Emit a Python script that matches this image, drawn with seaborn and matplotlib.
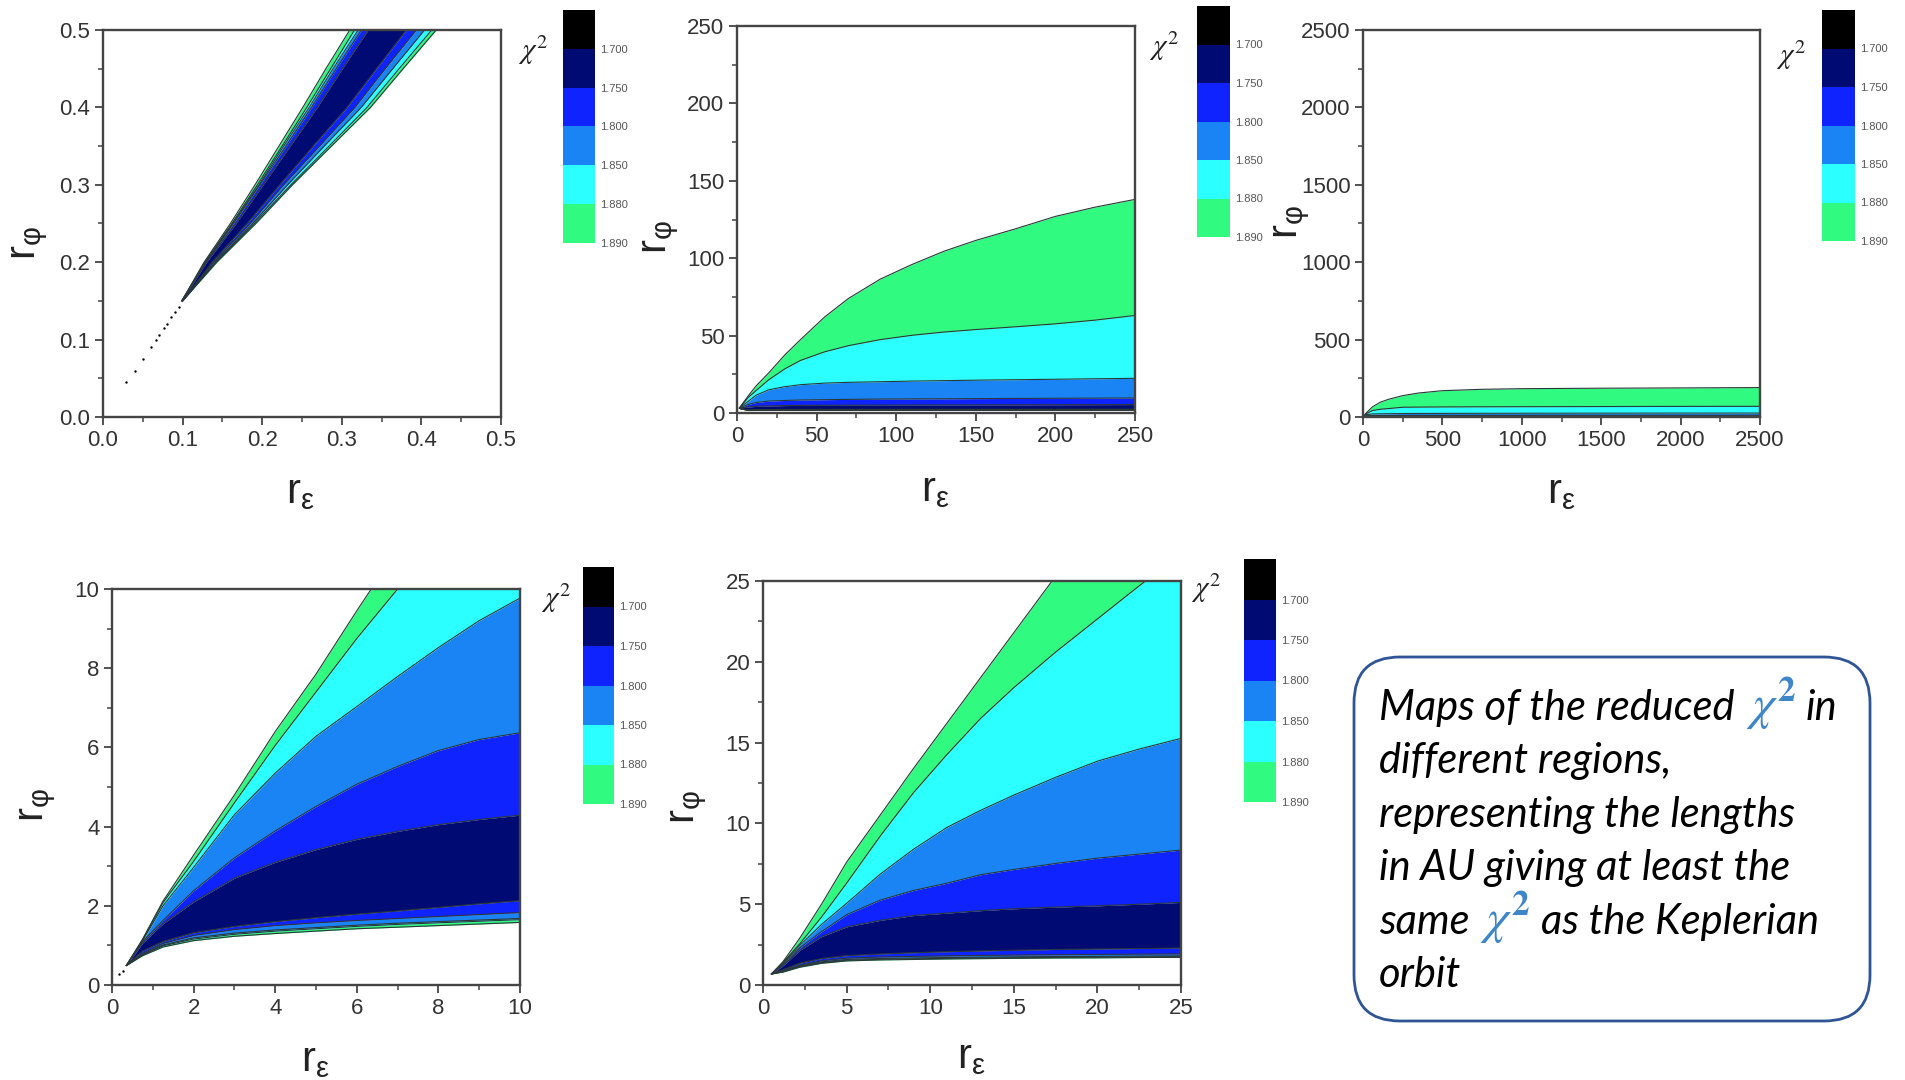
import numpy as np
import matplotlib
matplotlib.use("Agg")
import matplotlib.pyplot as plt
import seaborn as sns
from matplotlib.colors import ListedColormap
from matplotlib.patches import FancyBboxPatch
from matplotlib.transforms import IdentityTransform
from matplotlib.ticker import MultipleLocator, FormatStrFormatter

# ---------------- data ----------------
level_labels = ["1.700", "1.750", "1.800", "1.850", "1.880", "1.890"]
level_colors = ["#000000", "#000A73", "#0F23FF", "#1A84F5", "#2BFFFF", "#30FA80"]
# band order from one outer edge to the other: green, cyan, midblue, blue, navy, blue, midblue, cyan, green
band_index = [5, 4, 3, 2, 1, 2, 3, 4, 5]

# Panel 1 (0..0.5): boundaries given as x at each y (wedge), left edge -> right edge
p1_y = [0.15, 0.2, 0.25, 0.3, 0.35, 0.4, 0.45, 0.5]
p1_U0 = [0.099, 0.127, 0.160, 0.191, 0.221, 0.251, 0.280, 0.310]
p1_U1 = [0.099, 0.128, 0.162, 0.194, 0.225, 0.256, 0.286, 0.316]
p1_U2 = [0.099, 0.129, 0.163, 0.196, 0.227, 0.259, 0.289, 0.3205]
p1_U3 = [0.099, 0.129, 0.164, 0.197, 0.230, 0.262, 0.293, 0.3247]
p1_U4 = [0.099, 0.130, 0.167, 0.201, 0.235, 0.269, 0.3005, 0.333]
p1_L4 = [0.100, 0.137, 0.181, 0.222, 0.264, 0.3065, 0.3435, 0.381]
p1_L3 = [0.100, 0.139, 0.185, 0.227, 0.272, 0.3165, 0.3545, 0.3936]
p1_L2 = [0.100, 0.141, 0.188, 0.232, 0.278, 0.3245, 0.364, 0.404]
p1_L1 = [0.100, 0.142, 0.190, 0.236, 0.284, 0.3317, 0.372, 0.413]
p1_L0 = [0.100, 0.143, 0.192, 0.238, 0.287, 0.336, 0.377, 0.4186]
p1_dots_x = [0.029, 0.040, 0.0505, 0.0597, 0.066, 0.070, 0.0764, 0.0806, 0.086, 0.091, 0.095]
p1_dots_y = [0.045, 0.060, 0.075, 0.090, 0.100, 0.106, 0.1146, 0.120, 0.129, 0.136, 0.142]

# Panel 2 (0..250)
p2_x = [1.5, 7, 12, 20, 30, 40, 55, 70, 90, 110, 130, 150, 175, 200, 225, 250]
p2_L0 = [3.0, 1.60, 1.65, 1.70, 1.72, 1.74, 1.76, 1.77, 1.78, 1.79, 1.80, 1.80, 1.81, 1.81, 1.82, 1.82]
p2_L1 = [3.0, 1.65, 1.70, 1.75, 1.77, 1.79, 1.81, 1.82, 1.83, 1.84, 1.85, 1.85, 1.86, 1.86, 1.87, 1.87]
p2_L2 = [3.0, 1.70, 1.76, 1.81, 1.83, 1.85, 1.87, 1.88, 1.89, 1.90, 1.91, 1.91, 1.92, 1.92, 1.93, 1.93]
p2_L3 = [3.0, 1.80, 1.88, 1.93, 1.96, 1.98, 2.00, 2.01, 2.02, 2.03, 2.04, 2.05, 2.06, 2.06, 2.07, 2.07]
p2_L4 = [3.0, 2.00, 2.15, 2.23, 2.28, 2.31, 2.34, 2.36, 2.38, 2.40, 2.41, 2.42, 2.43, 2.44, 2.45, 2.46]
p2_U4 = [3.2, 3.9, 4.3, 4.6, 4.8, 4.9, 5.0, 5.05, 5.1, 5.15, 5.2, 5.25, 5.3, 5.35, 5.4, 5.45]
p2_U3 = [3.2, 5.5, 6.8, 7.7, 8.1, 8.4, 8.6, 8.8, 9.0, 9.1, 9.2, 9.3, 9.4, 9.5, 9.6, 9.7]
p2_U2 = [3.2, 7.5, 11.5, 15.0, 17.0, 18.3, 19.3, 19.8, 20.2, 20.6, 20.9, 21.2, 21.5, 21.8, 22.1, 22.4]
p2_U1 = [3.2, 10.0, 14.5, 21.5, 28.5, 34.0, 39.5, 43.5, 47.4, 50.2, 52.3, 53.9, 55.7, 57.6, 60.0, 63.0]
p2_U0 = [3.2, 11.0, 17.5, 26.0, 37.5, 47.5, 62.0, 74.0, 86.5, 96.0, 104.5, 111.5, 119.0, 127.0, 133.0, 138.0]

# Panel 3 (0..2500)
p3_x = [1.5, 20, 60, 110, 160, 250, 350, 500, 750, 1000, 1500, 2000, 2500]
p3_L0 = [3.0, 1.70, 1.76, 1.79, 1.80, 1.82, 1.83, 1.84, 1.85, 1.86, 1.87, 1.88, 1.89]
p3_L1 = [3.0, 1.75, 1.81, 1.84, 1.85, 1.87, 1.88, 1.89, 1.90, 1.91, 1.92, 1.93, 1.94]
p3_L2 = [3.0, 1.81, 1.87, 1.90, 1.91, 1.93, 1.94, 1.95, 1.96, 1.97, 1.98, 1.99, 2.00]
p3_L3 = [3.0, 1.93, 2.00, 2.03, 2.05, 2.07, 2.08, 2.10, 2.11, 2.12, 2.13, 2.14, 2.15]
p3_L4 = [3.0, 2.23, 2.35, 2.40, 2.42, 2.46, 2.48, 2.50, 2.52, 2.54, 2.56, 2.58, 2.60]
p3_U4 = [3.2, 4.6, 5.0, 5.15, 5.25, 5.45, 5.55, 5.65, 5.75, 5.85, 5.95, 6.0, 6.05]
p3_U3 = [3.2, 7.7, 8.7, 9.1, 9.3, 9.7, 10.0, 10.2, 10.5, 10.7, 10.9, 11.1, 11.2]
p3_U2 = [3.2, 15.0, 19.6, 20.6, 21.3, 22.4, 22.9, 23.4, 23.9, 24.3, 24.8, 25.2, 25.5]
p3_U1 = [3.2, 21.5, 42.0, 50.0, 54.5, 63.0, 64.0, 65.0, 66.0, 66.5, 67.5, 68.5, 69.0]
p3_U0 = [3.2, 26.0, 66.0, 96.0, 114.0, 138.0, 155.0, 170.0, 179.0, 183.0, 186.0, 188.0, 190.0]

# Panel 4 (0..10)
p4_x = [0.35, 0.75, 1.25, 2, 3, 4, 5, 6, 7, 8, 9, 10]
p4_L0 = [0.49, 0.74, 0.96, 1.12, 1.23, 1.30, 1.36, 1.42, 1.46, 1.50, 1.54, 1.58]
p4_L1 = [0.49, 0.76, 0.99, 1.16, 1.28, 1.36, 1.42, 1.48, 1.53, 1.57, 1.61, 1.65]
p4_L2 = [0.49, 0.77, 1.01, 1.19, 1.31, 1.39, 1.45, 1.51, 1.56, 1.60, 1.64, 1.68]
p4_L3 = [0.49, 0.80, 1.05, 1.25, 1.40, 1.50, 1.57, 1.63, 1.68, 1.73, 1.78, 1.83]
p4_L4 = [0.49, 0.86, 1.10, 1.32, 1.48, 1.60, 1.70, 1.79, 1.87, 1.96, 2.05, 2.13]
p4_U4 = [0.49, 1.06, 1.55, 2.10, 2.70, 3.10, 3.42, 3.68, 3.88, 4.05, 4.18, 4.29]
p4_U3 = [0.49, 1.10, 1.63, 2.38, 3.21, 3.89, 4.51, 5.07, 5.52, 5.92, 6.20, 6.37]
p4_U2 = [0.49, 1.12, 2.00, 2.97, 4.30, 5.35, 6.28, 7.03, 7.79, 8.52, 9.20, 9.77]
p4_U1 = [0.49, 1.14, 2.08, 3.12, 4.60, 6.05, 7.40, 8.75, 10.0, 11.3, 12.6, 13.9]
p4_U0 = [0.49, 1.16, 2.12, 3.28, 4.80, 6.40, 7.85, 9.45, 11.0, 12.5, 14.0, 15.5]
p4_dots_x = [0.18, 0.26]
p4_dots_y = [0.28, 0.36]

# Panel 5 (0..25)
p5_x = [0.5, 1.2, 2.2, 3.5, 5, 7, 9, 11, 13, 15, 17.5, 20, 22.5, 25]
p5_L0 = [0.68, 0.80, 1.10, 1.34, 1.49, 1.55, 1.58, 1.61, 1.63, 1.65, 1.67, 1.68, 1.70, 1.71]
p5_L1 = [0.68, 0.82, 1.13, 1.38, 1.53, 1.59, 1.62, 1.65, 1.67, 1.69, 1.71, 1.72, 1.74, 1.75]
p5_L2 = [0.68, 0.84, 1.17, 1.43, 1.58, 1.64, 1.67, 1.70, 1.72, 1.74, 1.76, 1.77, 1.79, 1.80]
p5_L3 = [0.68, 0.88, 1.23, 1.50, 1.66, 1.73, 1.77, 1.80, 1.83, 1.85, 1.87, 1.89, 1.91, 1.92]
p5_L4 = [0.68, 0.95, 1.35, 1.64, 1.82, 1.92, 2.00, 2.06, 2.11, 2.15, 2.20, 2.23, 2.26, 2.29]
p5_U4 = [0.68, 1.20, 2.15, 3.00, 3.60, 4.00, 4.30, 4.45, 4.60, 4.72, 4.82, 4.90, 5.00, 5.11]
p5_U3 = [0.68, 1.28, 2.30, 3.30, 4.35, 5.25, 5.85, 6.30, 6.82, 7.15, 7.52, 7.85, 8.10, 8.35]
p5_U2 = [0.68, 1.34, 2.45, 3.75, 5.05, 6.85, 8.40, 9.75, 10.8, 11.75, 12.85, 13.85, 14.6, 15.26]
p5_U1 = [0.68, 1.40, 2.55, 4.20, 6.30, 9.20, 11.9, 14.26, 16.48, 18.4, 20.6, 22.65, 24.7, 26.7]
p5_U0 = [0.68, 1.45, 2.90, 5.00, 7.60, 10.5, 13.4, 16.2, 19.0, 21.8, 25.3, 28.8, 32.0, 35.5]

box_lines = [
    ["Maps of the reduced", "$chi", "in"],
    ["different regions,"],
    ["representing the lengths"],
    ["in AU giving at least the"],
    ["same", "$chi", "as the Keplerian"],
    ["orbit"],
]

# ---------------- style ----------------
sns.set_theme(style="ticks")
plt.rcParams["font.family"] = ["Liberation Sans", "DejaVu Sans"]
plt.rcParams["mathtext.fontset"] = "dejavusans"
plt.rcParams["axes.edgecolor"] = "#444444"
plt.rcParams["axes.linewidth"] = 1.7

W, H = 1905, 1080
fig = plt.figure(figsize=(W / 100, H / 100), dpi=100)
fig.patch.set_facecolor("white")


def add_ax(l, t, r, b):
    return fig.add_axes([l / W, 1 - b / H, (r - l) / W, (b - t) / H])


EDGE = "#2a3838"


def draw_bands(ax, grid, bounds, along="x"):
    bounds = [np.asarray(b, float) for b in bounds]
    grid = np.asarray(grid, float)
    for k in range(len(bounds) - 1):
        col = level_colors[band_index[k]]
        if along == "x":
            ax.fill_between(grid, bounds[k], bounds[k + 1], color=col, lw=0, zorder=1)
        else:
            ax.fill_betweenx(grid, bounds[k], bounds[k + 1], color=col, lw=0, zorder=1)
    for b in bounds:
        if along == "x":
            sns.lineplot(x=grid, y=b, ax=ax, color=EDGE, lw=0.8, sort=False,
                         estimator=None, zorder=2)
        else:
            sns.lineplot(x=b, y=grid, ax=ax, color=EDGE, lw=0.8, sort=False,
                         estimator=None, zorder=2)


panels = [
    dict(box=(103, 30, 501, 417), cbar=(563, 10, 595, 243), chi=(533, 50),
         xl=(300, 492), yl=(30, 243), lim=0.5, major=0.1, minor=0.05, fmt="%.1f"),
    dict(box=(737, 26, 1135, 413), cbar=(1197, 6, 1230, 237), chi=(1164, 46),
         xl=(935, 490), yl=(661, 237), lim=250, major=50, minor=25, fmt="%d"),
    dict(box=(1363, 30, 1760, 417), cbar=(1822, 10, 1855, 241), chi=(1791, 55),
         xl=(1561, 492), yl=(1292, 222), lim=2500, major=500, minor=250, fmt="%d"),
    dict(box=(112, 589, 520, 985), cbar=(583, 567, 614, 804), chi=(556, 598),
         xl=(315, 1060), yl=(38, 805), lim=10, major=2, minor=1, fmt="%d"),
    dict(box=(763, 581, 1181, 985), cbar=(1244, 559, 1276, 802), chi=(1206, 588),
         xl=(971, 1057), yl=(689, 807), lim=25, major=5, minor=2.5, fmt="%d"),
]

data = [
    ("y", p1_y, [p1_U0, p1_U1, p1_U2, p1_U3, p1_U4, p1_L4, p1_L3, p1_L2, p1_L1, p1_L0]),
    ("x", p2_x, [p2_L0, p2_L1, p2_L2, p2_L3, p2_L4, p2_U4, p2_U3, p2_U2, p2_U1, p2_U0]),
    ("x", p3_x, [p3_L0, p3_L1, p3_L2, p3_L3, p3_L4, p3_U4, p3_U3, p3_U2, p3_U1, p3_U0]),
    ("x", p4_x, [p4_L0, p4_L1, p4_L2, p4_L3, p4_L4, p4_U4, p4_U3, p4_U2, p4_U1, p4_U0]),
    ("x", p5_x, [p5_L0, p5_L1, p5_L2, p5_L3, p5_L4, p5_U4, p5_U3, p5_U2, p5_U1, p5_U0]),
]

cb_cmap = ListedColormap(level_colors)

for i, (cfg, (along, grid, bounds)) in enumerate(zip(panels, data)):
    l, t, r, b = cfg["box"]
    ax = add_ax(l, t, r, b)
    draw_bands(ax, grid, bounds, along)
    if i == 0:
        sns.scatterplot(x=p1_dots_x, y=p1_dots_y, ax=ax, s=3, color="black",
                        linewidth=0, zorder=3)
    if i == 3:
        sns.scatterplot(x=p4_dots_x, y=p4_dots_y, ax=ax, s=3, color="black",
                        linewidth=0, zorder=3)
    lim = cfg["lim"]
    ax.set_xlim(0, lim)
    ax.set_ylim(0, lim)
    ax.xaxis.set_major_locator(MultipleLocator(cfg["major"]))
    ax.yaxis.set_major_locator(MultipleLocator(cfg["major"]))
    ax.xaxis.set_minor_locator(MultipleLocator(cfg["minor"]))
    ax.yaxis.set_minor_locator(MultipleLocator(cfg["minor"]))
    ax.xaxis.set_major_formatter(FormatStrFormatter(cfg["fmt"]))
    ax.yaxis.set_major_formatter(FormatStrFormatter(cfg["fmt"]))
    ax.tick_params(which="major", direction="out", length=6, width=1.3,
                   color="#444444", labelsize=16, labelcolor="#333333", pad=3)
    ax.tick_params(which="minor", direction="out", length=3.5, width=1.1,
                   color="#444444")
    for sp in ax.spines.values():
        sp.set_visible(True)
        sp.set_color("#444444")
        sp.set_linewidth(1.7)
        sp.set_zorder(5)
    ax.grid(False)
    ax.set_facecolor("white")

    # axis labels
    ax.set_xlabel(r"r$_\mathregular{ε}$", fontsize=30, color="#222222")
    ax.set_ylabel(r"r$_\mathregular{φ}$", fontsize=30, color="#222222")
    xlx, xly = cfg["xl"]
    ylx, yly = cfg["yl"]
    ax.xaxis.set_label_coords((xlx - l) / (r - l), (b - xly) / (b - t))
    ax.yaxis.set_label_coords((ylx - l) / (r - l), (b - yly) / (b - t))
    ax.xaxis.label.set_va("center")
    ax.xaxis.label.set_ha("center")
    ax.yaxis.label.set_va("center")
    ax.yaxis.label.set_ha("center")

    # colour key
    cl, ct, cr, cb = cfg["cbar"]
    cax = add_ax(cl, ct, cr, cb)
    sns.heatmap(np.arange(len(level_colors)).reshape(-1, 1), ax=cax, cmap=cb_cmap,
                cbar=False, xticklabels=False, yticklabels=False, linewidths=0)
    cax.set_yticks(np.arange(1, len(level_labels) + 1))
    cax.set_yticklabels(level_labels, fontsize=8, color="#555555")
    cax.yaxis.tick_right()
    cax.tick_params(axis="y", length=0, pad=4, labelrotation=0)
    cax.set_xticks([])

    chx, chy = cfg["chi"]
    fig.text(chx / W, 1 - chy / H, r"$\chi^2$", math_fontfamily="stix",
             fontsize=21, color="#222222", ha="center", va="center")

# ---------------- text box ----------------
bx0, by0, bx1, by1 = 1354, 657, 1870, 1021
box = FancyBboxPatch((bx0, H - by1), bx1 - bx0, by1 - by0,
                     boxstyle="round,pad=0,rounding_size=46",
                     transform=IdentityTransform(), fc="white", ec="#2F5597",
                     lw=2.0, zorder=1)
fig.add_artist(box)

renderer = fig.canvas.get_renderer()
text_x0 = 1379
baselines = [720, 773, 827, 880, 934, 987]
gap = 10
for line, yb in zip(box_lines, baselines):
    x = text_x0
    for piece in line:
        if piece == "$chi":
            t = fig.text(x + 1, H - yb, r"$\chi^{\mathbf{2}}$", math_fontfamily="stix",
                         fontsize=36, color="#3F86C8", ha="left", va="baseline",
                         transform=IdentityTransform(), zorder=3)
        else:
            t = fig.text(x, H - yb, piece, family=["Lato", "DejaVu Sans"], style="italic",
                         fontsize=30, color="black", ha="left", va="baseline",
                         transform=IdentityTransform(), zorder=3)
        bb = t.get_window_extent(renderer)
        x = bb.x1 + gap

fig.savefig("out.png", dpi=100, facecolor="white")
